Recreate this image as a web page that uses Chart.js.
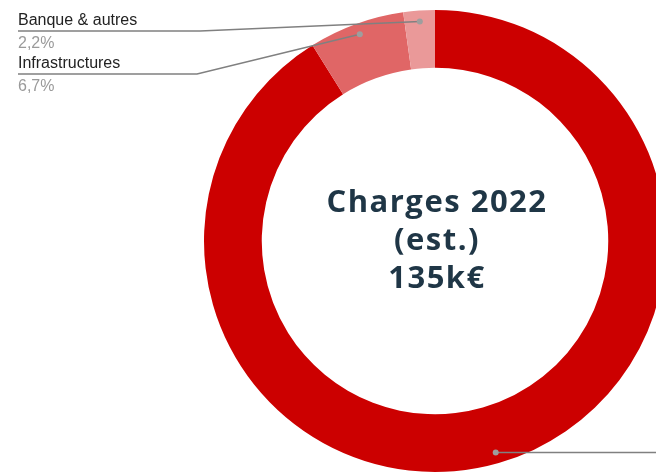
<!DOCTYPE html>
<html>
<head>
<meta charset="utf-8">
<script src="https://cdn.jsdelivr.net/npm/chart.js@4"></script>
<style>
  html, body { margin: 0; padding: 0; background: #fff; overflow: hidden; width: 656px; height: 473px; }
  #wrap { position: absolute; left: 0; top: 0; width: 870px; height: 482px; }
</style>
</head>
<body>
<div id="wrap"><canvas id="chargesChart" width="870" height="482"></canvas></div>
<script>
const categories = ['Salaires', 'Infrastructures', 'Banque & autres'];
const shares = [91.1, 6.7, 2.2];
const sliceColors = ['#cc0000', '#e06666', '#ea9999'];
const centerLines = ['Charges 2022', '(est.)', '135k€'];

// where each callout line ends (left side labels), index matches categories
const callouts = [
  { side: 'right' },
  { side: 'left', kinkX: 197, lineY: 74 },
  { side: 'left', kinkX: 200, lineY: 31 }
];

function pct(v) {
  const total = shares.reduce((a, b) => a + b, 0);
  return (v / total * 100).toFixed(1).replace('.', ',') + '%';
}

const labelsPlugin = {
  id: 'callouts',
  afterDraw(chart) {
    const ctx = chart.ctx;
    const arcs = chart.getDatasetMeta(0).data;

    // center text
    ctx.save();
    ctx.fillStyle = '#1f3646';
    ctx.font = 'bold 31px "Open Sans"';
    ctx.letterSpacing = '1.5px';
    ctx.textAlign = 'center';
    ctx.textBaseline = 'alphabetic';
    const cx = arcs[0].x, cy = arcs[0].y;
    centerLines.forEach((t, i) => {
      ctx.fillText(t, cx + 2, cy - 29 + i * 38);
    });
    ctx.restore();

    arcs.forEach((arc, i) => {
      const p = arc.getProps(['x', 'y', 'startAngle', 'endAngle', 'outerRadius', 'innerRadius']);
      const mid = (p.startAngle + p.endAngle) / 2;
      const r = p.outerRadius - 11;
      const dx = p.x + Math.cos(mid) * r;
      const dy = p.y + Math.sin(mid) * r;
      const c = callouts[i];

      ctx.save();
      ctx.strokeStyle = '#808080';
      ctx.lineWidth = 1.5;
      ctx.beginPath();
      ctx.moveTo(dx, dy);
      if (c.side === 'left') {
        ctx.lineTo(c.kinkX, c.lineY);
        ctx.lineTo(18, c.lineY);
      } else {
        ctx.lineTo(chart.width, dy);
      }
      ctx.stroke();

      ctx.fillStyle = '#9e9e9e';
      ctx.beginPath();
      ctx.arc(dx, dy, 3, 0, Math.PI * 2);
      ctx.fill();

      if (c.side === 'left') {
        ctx.font = '16px "Liberation Sans"';
        ctx.textAlign = 'left';
        ctx.textBaseline = 'alphabetic';
        ctx.fillStyle = '#222222';
        ctx.fillText(categories[i], 18, c.lineY - 6);
        ctx.fillStyle = '#9a9a9a';
        ctx.fillText(pct(shares[i]), 18, c.lineY + 17);
      }
      ctx.restore();
    });
  }
};

const chargesCtx = document.getElementById('chargesChart').getContext('2d');

const chargesChart = new Chart(chargesCtx, {
  type: 'doughnut',
  data: {
    labels: categories,
    datasets: [{
      data: shares,
      backgroundColor: sliceColors,
      borderWidth: 0
    }]
  },
  options: {
    responsive: false,
    animation: false,
    cutout: '75%',
    layout: { padding: { top: 10, bottom: 10, left: 0, right: 0 } },
    plugins: {
      legend: { display: false },
      tooltip: { enabled: false }
    }
  },
  plugins: [labelsPlugin]
});
</script>
</body>
</html>
